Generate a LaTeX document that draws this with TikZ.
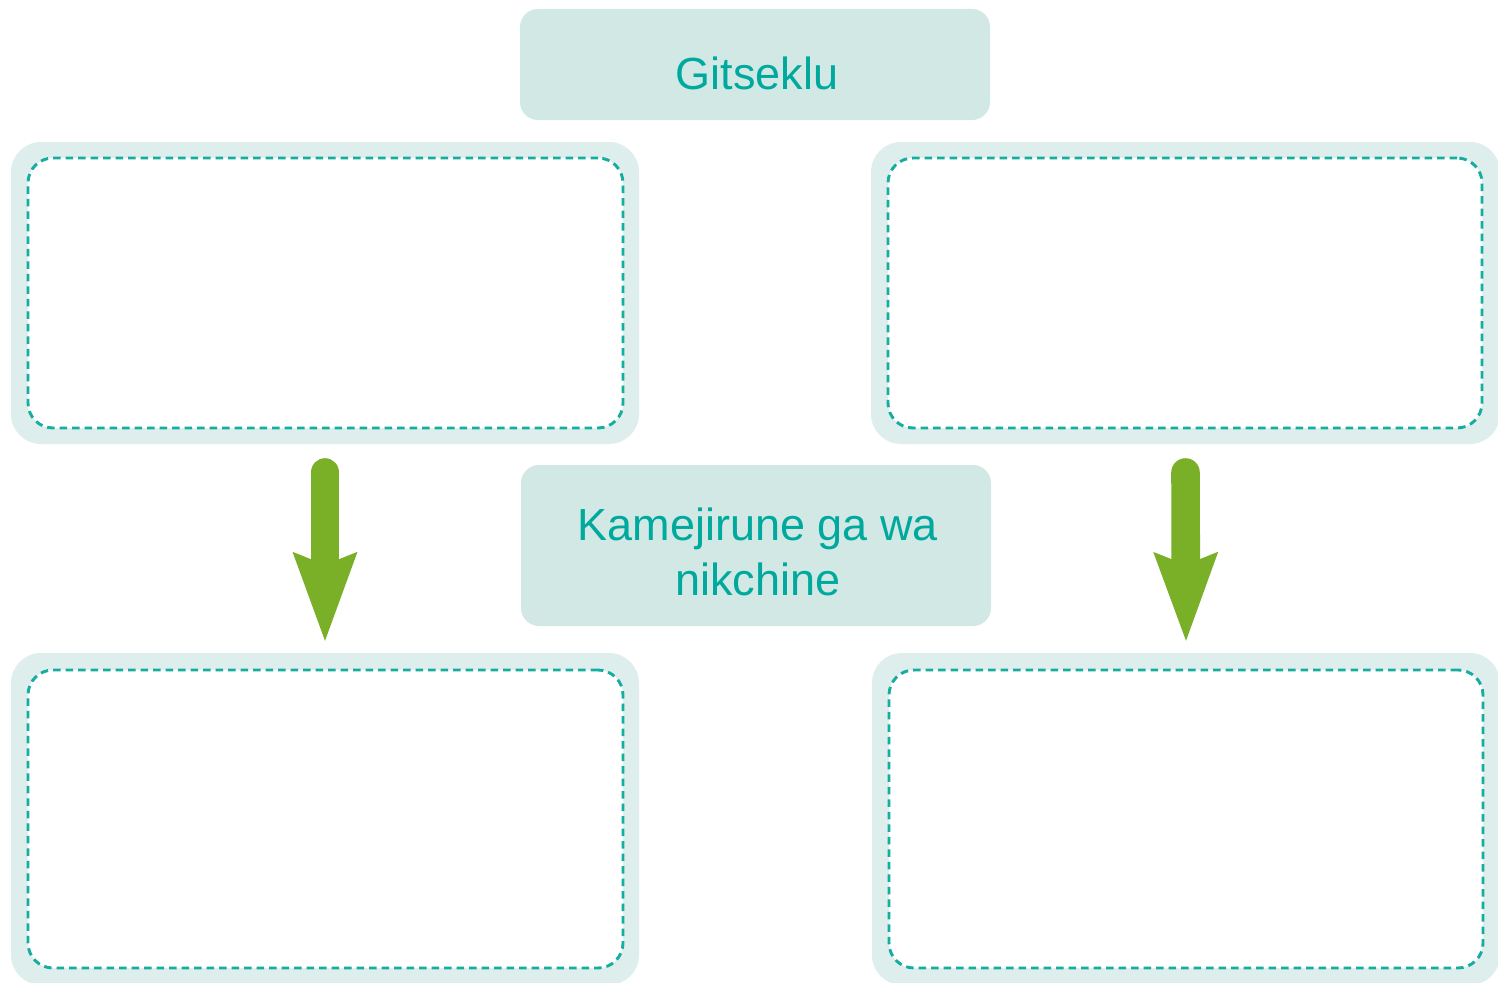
\documentclass[tikz,border=0pt]{standalone}
\usepackage{fontspec}
\setmainfont{Liberation Sans}
\usetikzlibrary{arrows.meta}
\definecolor{boxfill}{HTML}{D1E8E5}
\definecolor{framefill}{HTML}{DEEEEC}
\definecolor{dashcol}{HTML}{14AD9F}
\definecolor{txtcol}{HTML}{00A99D}
\definecolor{arrcol}{HTML}{7AAF28}
\tikzset{
  titlebox/.style={rectangle, rounded corners=18pt, fill=boxfill, inner sep=0pt},
  frame/.style={rectangle, rounded corners=30pt, fill=framefill, inner sep=0pt},
  dashbox/.style={rectangle, rounded corners=25pt, fill=white, draw=dashcol, line width=2.9pt, dash pattern=on 7.5pt off 5pt, inner sep=0pt},
  lbl/.style={text=txtcol, font=\fontsize{45}{55}\selectfont, align=center, inner sep=0pt},
  bigarrow/.style={draw=arrcol, line width=28.6pt, line cap=round,
    -{Stealth[length=89pt,width=65pt,inset=13pt,line width=0pt,fill=arrcol]}}
}
\begin{document}
\begin{tikzpicture}[x=1pt,y=-1pt]
\useasboundingbox (0,0) rectangle (1498,982);
% title boxes
\node[titlebox, minimum width=470pt, minimum height=111pt] (t1) at (755,64.5) {};
\node[lbl] (t1txt) at (757,73.5) {Gitseklu};
\node[titlebox, minimum width=470pt, minimum height=161pt] (t2) at (756,545.5) {};
\node[lbl] (t2txt) at (758,552) {Kamejirune ga wa\\nikchine};
% frames
\node[frame, minimum width=628pt, minimum height=302pt] (tlo) at (325,293) {};
\node[dashbox, minimum width=595pt, minimum height=270pt] (tli) at (325.5,293) {};
\node[frame, minimum width=629pt, minimum height=302pt] (tro) at (1185.5,293) {};
\node[dashbox, minimum width=594pt, minimum height=270pt] (tri) at (1185,293) {};
\node[frame, minimum width=628pt, minimum height=332pt] (blo) at (325,819) {};
\node[dashbox, minimum width=595pt, minimum height=298pt] (bli) at (325.5,819) {};
\node[frame, minimum width=628pt, minimum height=332pt] (bro) at (1186,819) {};
\node[dashbox, minimum width=594pt, minimum height=298pt] (bri) at (1186,819) {};
% arrows
\draw[bigarrow] ([yshift=-28.3pt]tlo.south) -- ([yshift=12pt]blo.north);
\draw[bigarrow] ([yshift=-28.3pt]tro.south) -- ([yshift=12pt]bro.north);
\end{tikzpicture}
\end{document}
